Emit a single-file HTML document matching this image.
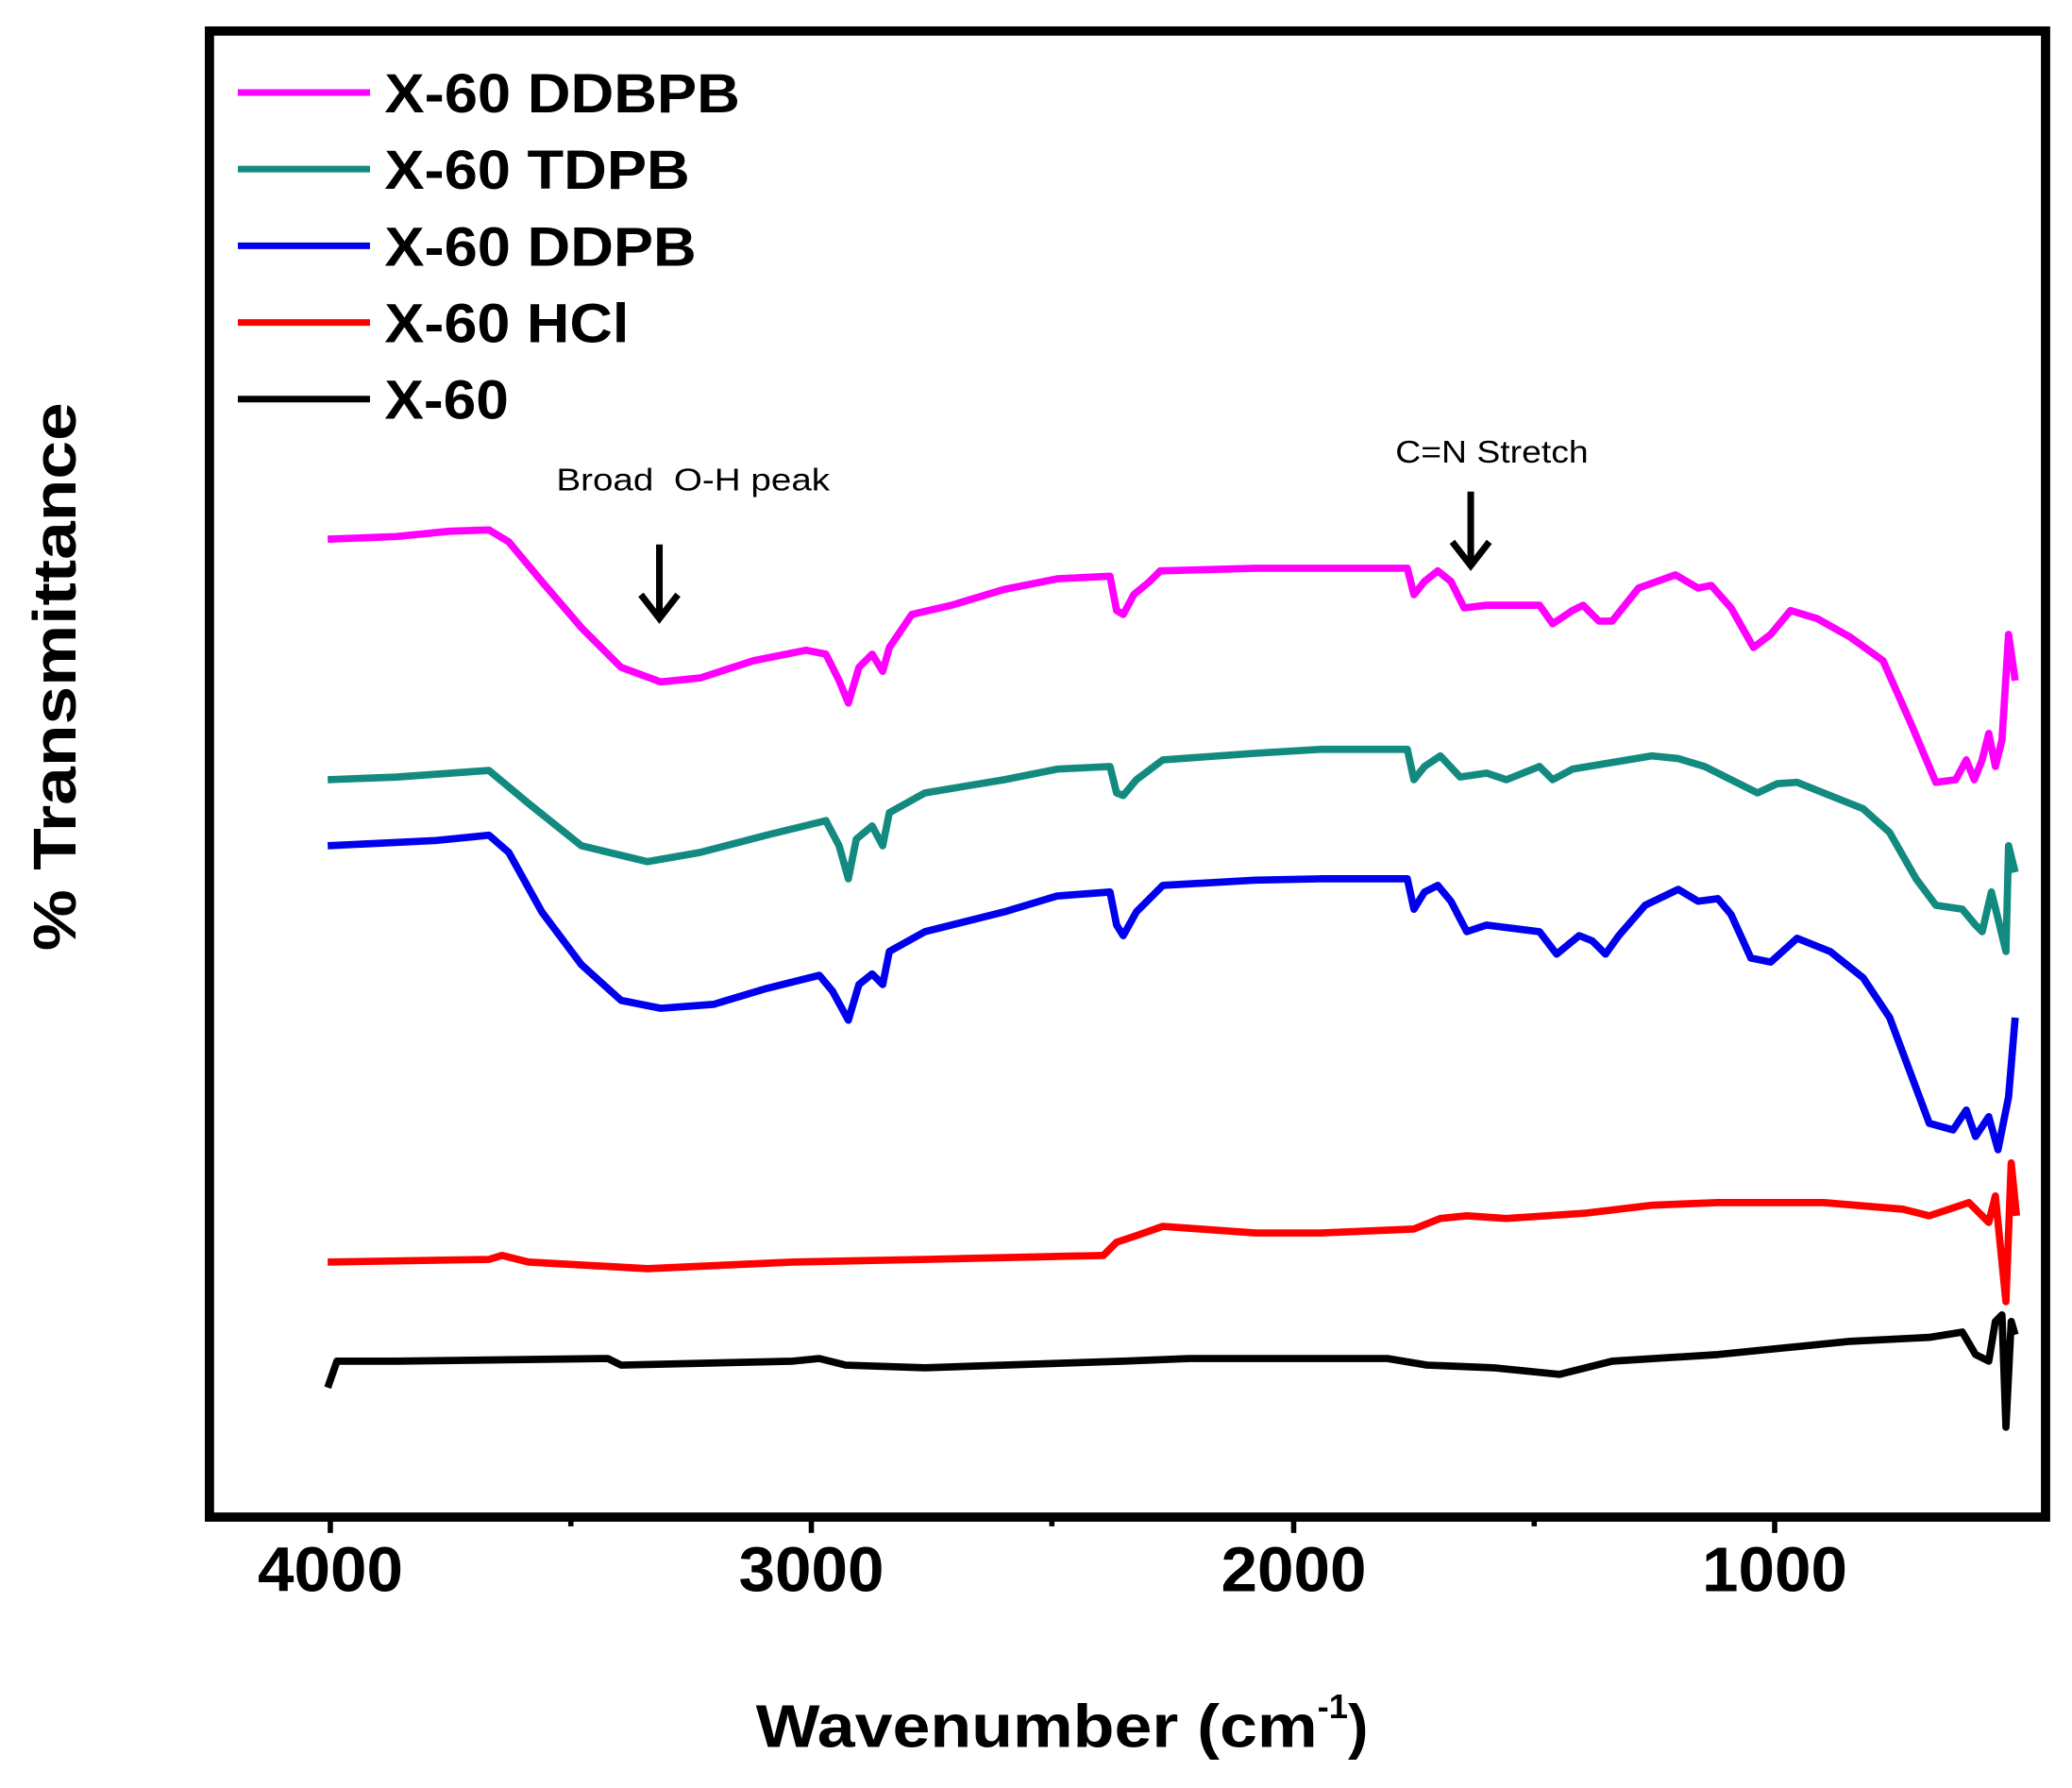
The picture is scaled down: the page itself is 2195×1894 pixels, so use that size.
<!DOCTYPE html>
<html><head><meta charset="utf-8"><style>html,body{margin:0;padding:0;background:#fff}svg{display:block}</style></head>
<body>
<svg width="2195" height="1894" viewBox="0 0 1568 1353" preserveAspectRatio="none" xmlns="http://www.w3.org/2000/svg">
<rect width="1568" height="1353" fill="#fff"/>
<rect x="158.5" y="23.5" width="1389.5" height="1124.5" fill="none" stroke="#000" stroke-width="7"/>
<g stroke="#000" stroke-width="4">
<line x1="250" y1="1148" x2="250" y2="1160"/><line x1="614" y1="1148" x2="614" y2="1160"/>
<line x1="979" y1="1148" x2="979" y2="1160"/><line x1="1343" y1="1148" x2="1343" y2="1160"/>
<line x1="432" y1="1148" x2="432" y2="1155"/><line x1="796" y1="1148" x2="796" y2="1155"/>
<line x1="1161" y1="1148" x2="1161" y2="1155"/>
</g>
<g font-family="Liberation Sans, sans-serif" font-weight="bold" font-size="48" text-anchor="middle" fill="#000" lengthAdjust="spacingAndGlyphs">
<text x="250" y="1204" textLength="110" lengthAdjust="spacingAndGlyphs">4000</text><text x="614" y="1204" textLength="110" lengthAdjust="spacingAndGlyphs">3000</text><text x="979" y="1204" textLength="110" lengthAdjust="spacingAndGlyphs">2000</text><text x="1343" y="1204" textLength="110" lengthAdjust="spacingAndGlyphs">1000</text>
</g>
<text x="572" y="1322" font-family="Liberation Sans, sans-serif" font-weight="bold" font-size="46"><tspan textLength="425" lengthAdjust="spacingAndGlyphs">Wavenumber (cm</tspan><tspan font-size="26" dy="-22">-1</tspan><tspan dy="22">)</tspan></text>
<text transform="translate(57,512) rotate(-90)" font-family="Liberation Sans, sans-serif" font-weight="bold" font-size="46" text-anchor="middle" textLength="415" lengthAdjust="spacingAndGlyphs">% Transmittance</text>
<g stroke-width="5">
<line x1="180" y1="70" x2="280" y2="70" stroke="#ff00ff"/>
<line x1="180" y1="128" x2="280" y2="128" stroke="#138a80"/>
<line x1="180" y1="186" x2="280" y2="186" stroke="#0000ee"/>
<line x1="180" y1="244" x2="280" y2="244" stroke="#ff0000"/>
<line x1="180" y1="302" x2="280" y2="302" stroke="#000"/>
</g>
<g font-family="Liberation Sans, sans-serif" font-weight="bold" font-size="42" fill="#000">
<text x="291" y="85" textLength="269" lengthAdjust="spacingAndGlyphs">X-60 DDBPB</text><text x="291" y="143" textLength="231" lengthAdjust="spacingAndGlyphs">X-60 TDPB</text><text x="291" y="201" textLength="236" lengthAdjust="spacingAndGlyphs">X-60 DDPB</text>
<text x="291" y="259" textLength="185" lengthAdjust="spacingAndGlyphs">X-60 HCl</text><text x="291" y="317" textLength="94" lengthAdjust="spacingAndGlyphs">X-60</text>
</g>
<g font-family="Liberation Sans, sans-serif" font-size="24" fill="#000">
<text x="421" y="371" xml:space="preserve" textLength="207" lengthAdjust="spacingAndGlyphs">Broad  O-H peak</text>
<text x="1056" y="350" textLength="146" lengthAdjust="spacingAndGlyphs">C=N Stretch</text>
</g>
<g stroke="#000" stroke-width="5" fill="none">
<line x1="499" y1="412" x2="499" y2="466"/><polyline points="485,450 499,468 513,450"/>
<line x1="1113" y1="372" x2="1113" y2="426"/><polyline points="1099,410 1113,428 1127,410"/>
</g>
<g fill="none" stroke-width="5.5" stroke-linejoin="round">
<polyline stroke="#ff00ff" points="248,408 300,406 340,402 370,401 385,410 410,440 440,475 470,505 500,516 530,513 570,500 610,492 625,495 635,515 642,532 650,505 660,495 668,508 673,490 690,465 720,458 760,446 800,438 840,436 845,462 850,465 858,450 870,440 878,432 950,430 1000,430 1065,430 1070,450 1078,440 1088,432 1098,440 1108,460 1125,458 1165,458 1175,472 1190,462 1198,458 1210,470 1220,470 1240,445 1268,435 1285,445 1295,443 1310,460 1327,490 1340,480 1355,462 1375,468 1400,482 1425,500 1445,545 1465,592 1480,590 1488,575 1494,590 1500,575 1505,555 1510,580 1515,560 1520,480 1525,515"/>
<polyline stroke="#138a80" points="248,590 300,588 370,583 400,608 440,640 490,652 530,645 580,632 625,621 635,640 642,665 648,635 660,625 668,640 673,615 700,600 760,590 800,582 840,580 845,600 850,602 860,590 880,575 950,570 1000,567 1065,567 1070,590 1078,580 1090,572 1105,588 1125,585 1140,590 1165,580 1175,590 1190,582 1250,572 1270,574 1290,580 1310,590 1330,600 1345,593 1360,592 1380,600 1410,612 1430,630 1450,665 1465,685 1485,688 1495,700 1500,705 1507,675 1512,695 1518,720 1520,640 1525,660"/>
<polyline stroke="#0000ee" points="248,640 330,636 370,632 385,645 410,690 440,730 470,757 500,763 540,760 580,748 620,738 630,750 642,772 650,745 660,737 668,745 673,720 700,705 760,690 800,678 840,675 845,700 850,708 860,690 880,670 950,666 1000,665 1065,665 1070,688 1078,675 1088,670 1098,682 1110,705 1125,700 1165,705 1178,722 1195,708 1205,712 1215,722 1225,708 1245,685 1270,673 1285,682 1300,680 1310,692 1325,725 1340,728 1360,710 1385,720 1410,740 1430,770 1445,810 1460,850 1478,855 1488,840 1495,860 1505,845 1512,870 1520,830 1525,770"/>
<polyline stroke="#ff0000" points="248,955 370,953 380,950 400,955 490,960 600,955 700,953 835,950 845,940 860,935 880,928 950,933 1000,933 1070,930 1090,922 1110,920 1140,922 1200,918 1250,912 1300,910 1380,910 1440,915 1460,920 1490,910 1505,925 1510,905 1518,985 1522,880 1526,920"/>
<polyline stroke="#000" points="248,1050 255,1030 300,1030 460,1028 470,1033 600,1030 620,1028 640,1033 700,1035 850,1030 900,1028 1050,1028 1080,1033 1130,1035 1180,1040 1220,1030 1300,1025 1350,1020 1400,1015 1460,1012 1485,1008 1495,1025 1505,1030 1510,1000 1515,995 1518,1080 1522,1000 1525,1010"/>
</g>
</svg>
</body></html>
